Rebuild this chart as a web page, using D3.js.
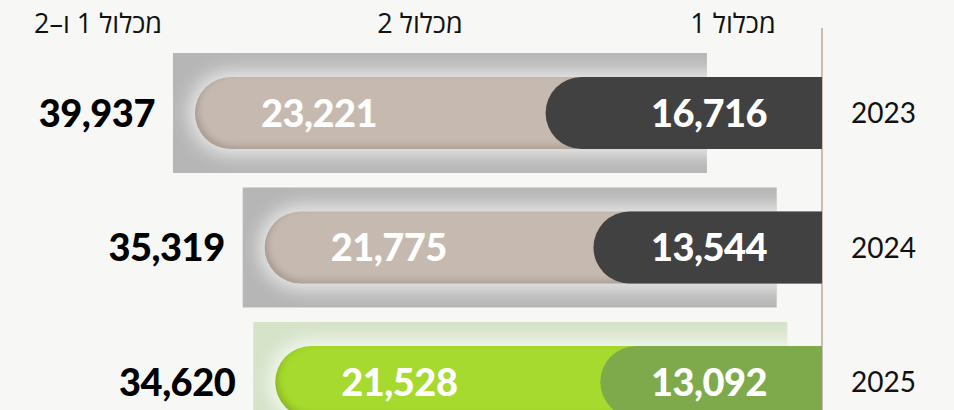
<!DOCTYPE html>
<html lang="he">
<head>
<meta charset="utf-8">
<script src="https://cdn.jsdelivr.net/npm/d3@7"></script>
<style>
  body { margin: 0; background: #f7f7f6; }
  svg { display: block; }
  .num { font-family: Lato, "Open Sans", sans-serif; font-weight: 900; }
  .year { font-family: Lato, "Open Sans", sans-serif; font-size: 28px; fill: #111; }
  .head { font-family: "Open Sans", "Liberation Sans", "DejaVu Sans", sans-serif;
          font-size: 27px; fill: #111; direction: rtl; }
</style>
</head>
<body>
<script>
// chart data
var years = ["2023", "2024", "2025"];
var unit1 = [16716, 13544, 13092];   // מכלול 1
var unit2 = [23221, 21775, 21528];   // מכלול 2
var totals = [39937, 35319, 34620];  // מכלול 1 ו-2
var headers = ["מכלול 1", "מכלול 2", "מכלול 1 ו–2"];

// size of svg
var fullWidth = 954;
var fullHeight = 410;

// x position of the base line the bars grow from (to the left)
var baseX = 822;
var barHeight = 72;
var boxHeight = 120;
var boxWidth = 534;
var highlight = "2025";

var fmt = d3.format(",");

var svg = d3.select("body")
            .append("svg")
            .attr("width", fullWidth)
            .attr("height", fullHeight);

var x = d3.scaleLinear()
          .domain([0, 40000])
          .range([798, 194]);

var y = d3.scalePoint()
          .domain(years)
          .range([113, 382]);

var defs = svg.append("defs");

// soft white glow behind the bars
defs.append("filter")
    .attr("id", "glow")
    .attr("x", "-20%").attr("y", "-60%")
    .attr("width", "140%").attr("height", "220%")
    .append("feGaussianBlur")
    .attr("stdDeviation", 9);

// inset shadow on the bar segments
var inset = defs.append("filter").attr("id", "inset");
inset.append("feFlood").attr("flood-color", "#3a2a20").attr("flood-opacity", 0.35).attr("result", "flood");
inset.append("feComposite").attr("in", "flood").attr("in2", "SourceAlpha")
     .attr("operator", "out").attr("result", "outside");
inset.append("feOffset").attr("in", "outside").attr("dx", 3).attr("dy", -3).attr("result", "moved");
inset.append("feGaussianBlur").attr("in", "moved").attr("stdDeviation", 3).attr("result", "blur");
inset.append("feComposite").attr("in", "blur").attr("in2", "SourceAlpha")
     .attr("operator", "in").attr("result", "shadow");
var merge = inset.append("feMerge");
merge.append("feMergeNode").attr("in", "SourceGraphic");
merge.append("feMergeNode").attr("in", "shadow");

// bar shape: rounded on the left, square on the right
function barPath(x0, x1, cy, h) {
    var r = h / 2;
    return "M" + (x0 + r) + "," + (cy - r) +
           "H" + x1 + "V" + (cy + r) +
           "H" + (x0 + r) +
           "A" + r + "," + r + " 0 0 1 " + (x0 + r) + "," + (cy - r) + "Z";
}

// column headers
var headX = [733, 420, 98];
svg.selectAll(".head")
   .data(headers)
   .enter()
   .append("text")
   .attr("class", "head")
   .attr("x", function(d, i) { return headX[i]; })
   .attr("y", 33)
   .attr("text-anchor", "middle")
   .text(function(d) { return d; });

// base line
svg.append("line")
   .attr("x1", baseX).attr("x2", baseX)
   .attr("y1", 28).attr("y2", fullHeight)
   .attr("stroke", "#cbbdb3")
   .attr("stroke-width", 2);

years.forEach(function(year, i) {
    var cy = y(year);
    var left = x(totals[i]);
    var hl = year == highlight;

    var boxFill = hl ? "#d6e3c9" : "#b6b6b6";
    var col2 = hl ? "#a6da2f" : "#c6b9b0";
    var col1 = hl ? "#7eaa4c" : "#414141";

    var g = svg.append("g");

    // background box with a clip for the glow
    defs.append("clipPath")
        .attr("id", "clip" + i)
        .append("rect")
        .attr("x", left - 22).attr("y", cy - boxHeight / 2)
        .attr("width", boxWidth).attr("height", boxHeight);

    g.append("rect")
     .attr("x", left - 22).attr("y", cy - boxHeight / 2)
     .attr("width", boxWidth).attr("height", boxHeight)
     .attr("fill", boxFill);

    g.append("g")
     .attr("clip-path", "url(#clip" + i + ")")
     .append("path")
     .attr("d", barPath(left - 6, baseX + 6, cy, barHeight + 12))
     .attr("fill", "#fff")
     .attr("opacity", hl ? 0.75 : 0.7)
     .attr("filter", "url(#glow)");

    // segment 2 (full bar), then segment 1 on top
    g.append("path")
     .attr("d", barPath(left, baseX, cy, barHeight))
     .attr("fill", col2)
     .attr("filter", "url(#inset)");

    g.append("path")
     .attr("d", barPath(x(unit1[i]), baseX, cy, barHeight))
     .attr("fill", col1);

    // value labels
    g.append("text")
     .attr("class", "num")
     .attr("x", left + 66)
     .attr("y", cy)
     .attr("dy", "0.36em")
     .style("font-size", "38px")
     .style("letter-spacing", "-0.5px")
     .attr("fill", "#fff")
     .text(fmt(unit2[i]));

    g.append("text")
     .attr("class", "num")
     .attr("x", 709)
     .attr("y", cy)
     .attr("dy", "0.36em")
     .attr("text-anchor", "middle")
     .style("font-size", "38px")
     .style("letter-spacing", "-0.5px")
     .attr("fill", "#fff")
     .text(fmt(unit1[i]));

    // total on the left
    g.append("text")
     .attr("class", "num")
     .attr("x", left - 40)
     .attr("y", cy)
     .attr("dy", "0.36em")
     .attr("text-anchor", "end")
     .style("font-size", "38px")
     .style("letter-spacing", "-0.5px")
     .attr("fill", "#000")
     .text(fmt(totals[i]));

    // year on the right
    g.append("text")
     .attr("class", "year")
     .attr("x", 851)
     .attr("y", cy)
     .attr("dy", "0.36em")
     .text(year);
});
</script>
</body>
</html>
